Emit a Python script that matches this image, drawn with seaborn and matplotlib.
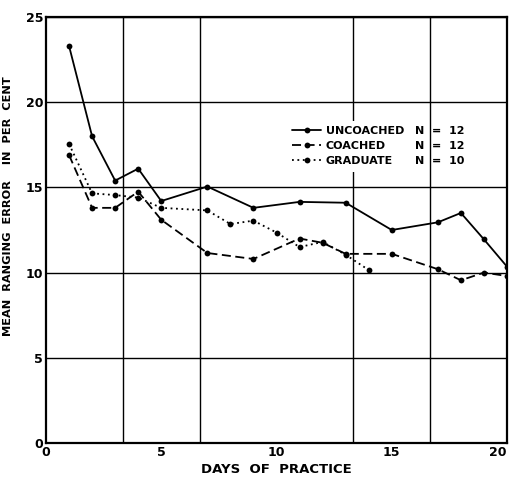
import matplotlib
matplotlib.use("Agg")
import matplotlib.pyplot as plt
from matplotlib.ticker import MultipleLocator
import seaborn as sns
import pandas as pd

uncoached_days = [1, 2, 3, 4, 5, 7, 9, 11, 13, 15, 17, 18, 19, 20]
uncoached_err = [23.3, 18.0, 15.4, 16.1, 14.2, 15.05, 13.8, 14.15, 14.1, 12.5, 12.95, 13.5, 11.95, 10.35]
coached_days = [1, 2, 3, 4, 5, 7, 9, 11, 12, 13, 15, 17, 18, 19, 20]
coached_err = [16.9, 13.8, 13.8, 14.75, 13.1, 11.15, 10.8, 12.0, 11.75, 11.1, 11.1, 10.2, 9.55, 10.0, 9.8]
graduate_days = [1, 2, 3, 4, 5, 7, 8, 9, 10, 11, 12, 13, 14]
graduate_err = [17.55, 14.65, 14.55, 14.4, 13.8, 13.65, 12.85, 13.05, 12.35, 11.5, 11.8, 11.05, 10.15]

series_names = ["UNCOACHED", "COACHED", "GRADUATE"]
series_n = ["12", "12", "10"]
x_ticks = [0, 5, 10, 15, 20]
y_ticks = [0, 5, 10, 15, 20, 25]

sns.set_theme(style="white")
plt.rcParams["font.family"] = ["DejaVu Sans"]
plt.rcParams["font.weight"] = "bold"

fig = plt.figure(figsize=(5.12, 4.79), dpi=100)
ax = fig.add_axes([46 / 512, 36 / 479, 461 / 512, 426 / 479])

styles = [
    dict(linestyle="-"),
    dict(linestyle=(0, (5, 2.5))),
    dict(linestyle=(0, (1, 2))),
]
data = [(uncoached_days, uncoached_err), (coached_days, coached_err), (graduate_days, graduate_err)]
for (d, e), name, st in zip(data, series_names, styles):
    df = pd.DataFrame({"day": d, "err": e})
    sns.lineplot(data=df, x="day", y="err", ax=ax, color="black", lw=1.3,
                 marker="o", markersize=4.2, markeredgewidth=0, label=name, zorder=3, **st)

ax.set_xlim(0, 20)
ax.set_ylim(0, 25)
ax.set_xticks(x_ticks)
ax.set_yticks(y_ticks)
ax.set_xticklabels([str(t) for t in x_ticks], fontsize=9, fontweight="bold")
ax.set_yticklabels([str(t) for t in y_ticks], fontsize=9, fontweight="bold")
ax.get_xticklabels()[-1].set_horizontalalignment("right")
ax.xaxis.set_minor_locator(MultipleLocator(20 / 6))
ax.grid(False)
ax.grid(True, axis="x", which="minor", color="black", lw=1.0)
ax.grid(True, axis="y", which="major", color="black", lw=1.0)
ax.tick_params(axis="both", which="both", length=0, pad=2, colors="black")
for s in ax.spines.values():
    s.set_color("black")
    s.set_linewidth(1.6)

ax.set_xlabel("DAYS  OF  PRACTICE", fontsize=9.5, fontweight="bold", labelpad=3, color="black")
ax.set_ylabel("MEAN  RANGING  ERROR    IN  PER  CENT", fontsize=8.2, fontweight="bold",
              labelpad=6, color="black")
ax.yaxis.set_label_coords(-0.072, 0.555)

leg = ax.legend(loc="upper left", bbox_to_anchor=(0.51, 0.77), frameon=True, fancybox=False,
                edgecolor="none", facecolor="white", framealpha=1, handlelength=2.6,
                handletextpad=0.4, labelspacing=0.45, borderpad=0.5,
                prop=dict(size=8, weight="bold"))
leg.set_zorder(5)
for t in leg.get_texts():
    t.set_color("black")

fig.canvas.draw()
inv = ax.transAxes.inverted()
for t, n in zip(leg.get_texts(), series_n):
    bb = t.get_window_extent()
    yc = (bb.y0 + bb.y1) / 2
    _, ya = inv.transform((0, yc))
    ax.text(0.80, ya, f"N  =  {n}", transform=ax.transAxes, ha="left", va="center",
            fontsize=8, fontweight="bold", color="black", zorder=6)

fig.savefig("out.png", dpi=100)
